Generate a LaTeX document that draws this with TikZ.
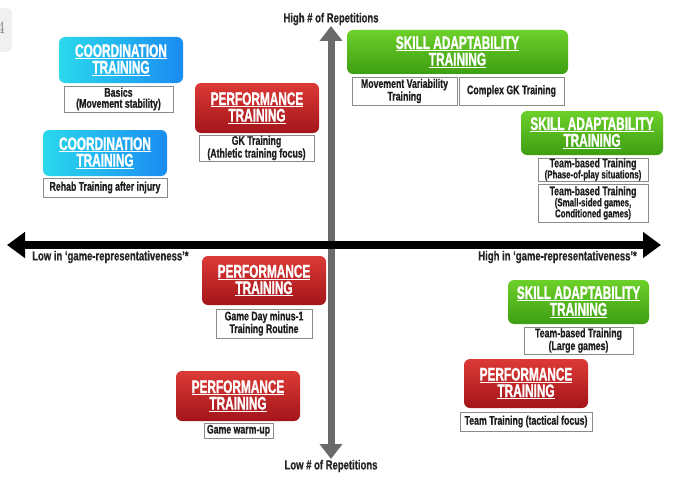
\documentclass[tikz,border=0pt]{standalone}
\usepackage{fontspec}
\newfontfamily\headf[FakeStretch=0.65, FakeBold=1.2]{Liberation Sans Bold}
\newfontfamily\subf[FakeStretch=0.70, FakeBold=0.8]{Liberation Sans Bold}
\newfontfamily\axf[FakeStretch=0.72, FakeBold=0.8]{Liberation Sans Bold}
\usetikzlibrary{arrows.meta}
\definecolor{cyanL}{HTML}{2AD8EC}
\definecolor{cyanR}{HTML}{1A8CF2}
\definecolor{redT}{HTML}{DC3A36}
\definecolor{redB}{HTML}{A3151A}
\definecolor{greenT}{HTML}{6CD02A}
\definecolor{greenB}{HTML}{3E9E12}
\definecolor{axisgray}{HTML}{6A6A6A}
\definecolor{subborder}{HTML}{8A8A8A}
\definecolor{subtext}{HTML}{1E1E1E}
\newcommand{\hd}[2]{\underline{#1}\\[1.5pt]\underline{#2}}
\newcommand{\sm}{\fontsize{11.3}{10}\selectfont}
\begin{document}
\begin{tikzpicture}[x=1pt,y=-1pt,
  head/.style={rounded corners=6pt, text=white, align=center, inner sep=0pt,
    font=\headf\fontsize{18.2}{15}\selectfont},
  coord/.style={head, left color=cyanL, right color=cyanR},
  perf/.style={head, top color=redT, bottom color=redB},
  skill/.style={head, top color=greenT, bottom color=greenB},
  sub/.style={draw=subborder, fill=white, line width=0.8pt, align=center, inner sep=0pt,
    text=subtext, font=\subf\fontsize{12.5}{11}\selectfont},
  axlabel/.style={text=black!85, font=\axf\fontsize{13.2}{13}\selectfont, inner sep=0pt}
]
\useasboundingbox (0,0) rectangle (680,487);
% corner fragment
\fill[black!6, rounded corners=5pt] (-20,8) rectangle (12,52);
\node[text=black!55, font=\fontsize{17}{17}\selectfont] (frag) at (1,28) {4};

% axes
\coordinate (T) at (331,26);
\coordinate (B) at (331,459);
\coordinate (L) at (7,245);
\coordinate (R) at (661,245);
\draw[axisgray, line width=7pt, {Triangle[length=15pt,width=22pt]}-{Triangle[length=15pt,width=22pt]}] (B) -- (T);
\draw[black, line width=7.5pt, {Triangle[length=18pt,width=25pt]}-{Triangle[length=18pt,width=25pt]}] (L) -- (R);

\node[axlabel] (hirep) at (331,19) {High \# of Repetitions};
\node[axlabel] (lorep) at (331,466) {Low \# of Repetitions};
\node[axlabel, anchor=west] (logr) at (32,257) {Low in ‘game-representativeness’*};
\node[axlabel, anchor=east] (higr) at (637,257) {High in ‘game-representativeness’*};

% Coordination 1
\node[coord, minimum width=124pt, minimum height=46pt] (c1) at (121,60) {\hd{COORDINATION}{TRAINING}};
\node[sub, minimum width=109pt, minimum height=26pt] (c1s) at (118.5,99) {Basics\\(Movement stability)};
% Coordination 2
\node[coord, minimum width=124pt, minimum height=46pt] (c2) at (105,153) {\hd{COORDINATION}{TRAINING}};
\node[sub, minimum width=124pt, minimum height=19pt] (c2s) at (105,187.5) {Rehab Training after injury};
% Performance GK
\node[perf, minimum width=124pt, minimum height=50pt] (p1) at (257,108) {\hd{PERFORMANCE}{TRAINING}};
\node[sub, minimum width=115pt, minimum height=26pt] (p1s) at (256.5,148) {GK Training\\(Athletic training focus)};
% Skill top
\node[skill, minimum width=221pt, minimum height=44pt] (s1) at (457.5,52) {\hd{SKILL ADAPTABILITY}{TRAINING}};
\node[sub, minimum width=105pt, minimum height=28pt] (s1a) at (404.5,91) {Movement Variability\\Training};
\node[sub, minimum width=105pt, minimum height=28pt] (s1b) at (511.5,91) {Complex GK Training};
% Skill right
\node[skill, minimum width=142pt, minimum height=44pt] (s2) at (592,133) {\hd{SKILL ADAPTABILITY}{TRAINING}};
\node[sub, minimum width=110pt, minimum height=23pt] (s2a) at (593,169.5) {Team-based Training\\{\sm(Phase-of-play situations)}};
\node[sub, minimum width=110pt, minimum height=38pt] (s2b) at (593,203) {Team-based Training\\{\sm(Small-sided games,}\\{\sm Conditioned games)}};
% Performance game day -1
\node[perf, minimum width=124pt, minimum height=49pt] (p2) at (264,280.5) {\hd{PERFORMANCE}{TRAINING}};
\node[sub, minimum width=96pt, minimum height=29pt] (p2s) at (264,323.5) {Game Day minus-1\\Training Routine};
% Performance warm-up
\node[perf, minimum width=124pt, minimum height=50pt] (p3) at (238,396) {\hd{PERFORMANCE}{TRAINING}};
\node[sub, minimum width=69pt, minimum height=15pt] (p3s) at (238.5,430.5) {Game warm-up};
% Skill large games
\node[skill, minimum width=141pt, minimum height=44pt] (s3) at (578.5,302) {\hd{SKILL ADAPTABILITY}{TRAINING}};
\node[sub, minimum width=109pt, minimum height=27pt] (s3s) at (578.5,340.5) {Team-based Training\\(Large games)};
% Performance team training
\node[perf, minimum width=124pt, minimum height=49pt] (p4) at (526,383.5) {\hd{PERFORMANCE}{TRAINING}};
\node[sub, minimum width=132pt, minimum height=19pt] (p4s) at (526,421.5) {Team Training (tactical focus)};
\end{tikzpicture}
\end{document}
